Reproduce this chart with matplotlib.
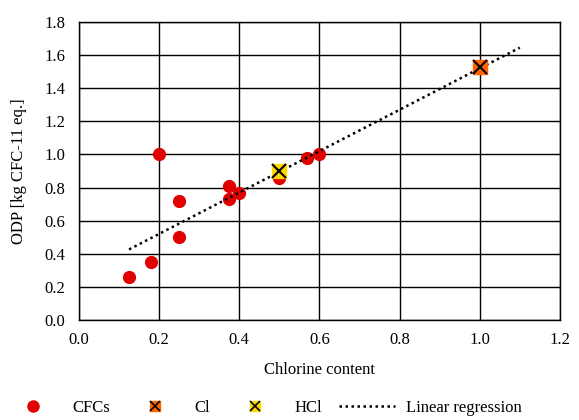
import numpy as np
import matplotlib.pyplot as plt
from matplotlib.legend_handler import HandlerTuple
from matplotlib.lines import Line2D

plt.rcParams['font.family'] = ['Liberation Serif', 'DejaVu Serif']

# CFCs: chlorine content vs ODP
cfc_x = [0.125, 0.18, 0.2, 0.25, 0.25, 0.375, 0.375, 0.4, 0.5, 0.57, 0.6]
cfc_y = [0.26, 0.35, 1.0, 0.72, 0.50, 0.81, 0.73, 0.77, 0.86, 0.98, 1.0]
cl_x, cl_y = [1.0], [1.53]
hcl_x, hcl_y = [0.5], [0.9]

# regression line
slope, intercept = 1.25, 0.27
reg_x = np.array([0.125, 1.1])

fig = plt.figure(figsize=(5.79, 4.2), dpi=100)
ax = fig.add_axes([0.1364, 0.2381, 0.8306, 0.7095])

ax.plot(reg_x, slope * reg_x + intercept, color='black', linestyle=(0, (1, 1.4)), lw=1.8, zorder=4)
ax.plot(cfc_x, cfc_y, 'o', color='#E00000', ms=8.5, zorder=3)
ax.plot(cl_x, cl_y, 's', color='#FF6600', ms=10, zorder=5)
ax.plot(cl_x, cl_y, 'x', color='black', ms=10, mew=1.5, zorder=6)
ax.plot(hcl_x, hcl_y, 's', color='#FFD700', ms=10, zorder=5)
ax.plot(hcl_x, hcl_y, 'x', color='black', ms=10, mew=1.5, zorder=6)

ax.set_xlim(0, 1.2)
ax.set_ylim(0, 1.8)
ax.set_xticks(np.arange(0, 1.21, 0.2))
ax.set_yticks(np.arange(0, 1.81, 0.2))
ax.xaxis.set_major_formatter(plt.FormatStrFormatter('%.1f'))
ax.yaxis.set_major_formatter(plt.FormatStrFormatter('%.1f'))
ax.tick_params(length=0, labelsize=12)
ax.tick_params(axis='x', pad=9)
ax.tick_params(axis='y', pad=10)
ax.grid(True, color='black', lw=1)
ax.set_axisbelow(True)
for s in ax.spines.values():
    s.set_color('black')
    s.set_linewidth(1)

ax.set_xlabel('Chlorine content', fontsize=12, labelpad=10)
ax.set_ylabel('ODP [kg CFC-11 eq.]', fontsize=12, labelpad=12)

h_cfc = Line2D([], [], marker='o', color='#E00000', ls='none', ms=8)
h_cl = (Line2D([], [], marker='s', color='#FF6600', ls='none', ms=7),
        Line2D([], [], marker='x', color='black', ls='none', ms=7, mew=1.2))
h_hcl = (Line2D([], [], marker='s', color='#FFD700', ls='none', ms=7),
         Line2D([], [], marker='x', color='black', ls='none', ms=7, mew=1.2))
h_reg = Line2D([], [], color='black', linestyle=(0, (1, 1.4)), lw=1.8)
fig.legend([h_cfc, h_cl, h_hcl, h_reg], ['CFCs', 'Cl', 'HCl', 'Linear regression'],
           handler_map={tuple: HandlerTuple(ndivide=1, pad=0)},
           loc='lower center', bbox_to_anchor=(0.455, -0.025), ncol=4, frameon=False,
           fontsize=12, handlelength=3.4, handletextpad=0.65, columnspacing=1.0)

fig.savefig('out.png', dpi=100)
